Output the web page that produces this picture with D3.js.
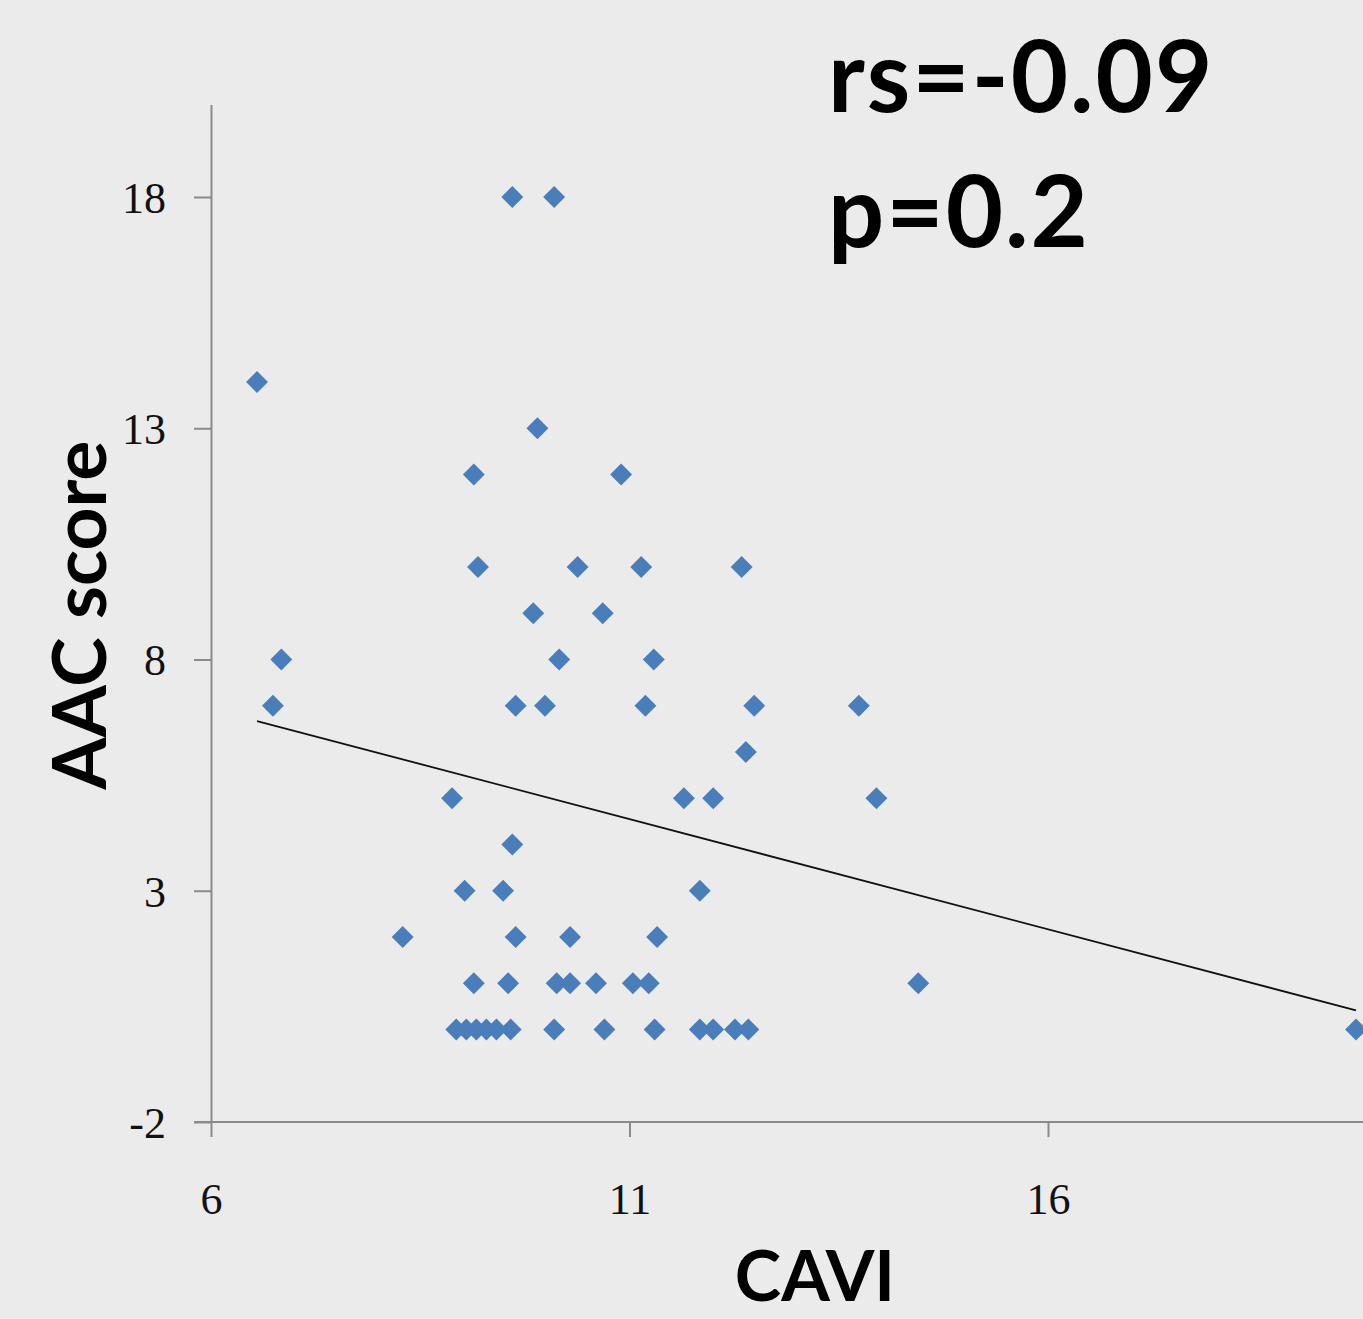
<!DOCTYPE html>
<html>
<head>
<meta charset="utf-8">
<script src="https://cdn.jsdelivr.net/npm/d3@7"></script>
<style>
  body { margin: 0; background: #ebebeb; }
  svg { display: block; background: #ebebeb; }
  .axis path, .axis line { stroke: #8a8a8a; stroke-width: 2px; }
  .axis text { font-family: "Liberation Serif", serif; font-size: 44px; fill: #111; }
  .title { font-family: Lato, "Open Sans", sans-serif; font-weight: bold; fill: #000; }
</style>
</head>
<body>
<div id="chart"></div>
<script>
// CAVI (x) vs AAC score (y)
var caviValues = [
  9.6, 10.1,
  6.55,
  9.9,
  9.14, 10.9,
  9.19, 10.38, 11.14, 12.34,
  9.85, 10.68,
  6.84, 10.16, 11.29,
  6.74, 9.64, 9.99, 11.19, 12.49, 13.74,
  12.39,
  8.88, 11.65, 12.0, 13.95,
  9.6,
  9.03, 9.49, 11.84,
  8.29, 9.64, 10.29, 11.33,
  9.14, 9.55, 10.13, 10.29, 10.6, 11.04, 11.23, 14.45,
  8.93, 9.05, 9.17, 9.29, 9.41, 9.58, 10.1, 10.7, 11.3, 11.84, 12.0, 12.26, 12.42, 19.68
];
var aacValues = [
  18, 18,
  14,
  13,
  12, 12,
  10, 10, 10, 10,
  9, 9,
  8, 8, 8,
  7, 7, 7, 7, 7, 7,
  6,
  5, 5, 5, 5,
  4,
  3, 3, 3,
  2, 2, 2, 2,
  1, 1, 1, 1, 1, 1, 1, 1,
  0, 0, 0, 0, 0, 0, 0, 0, 0, 0, 0, 0, 0, 0
];
var xTicks = [6, 11, 16];
var yTicks = [-2, 3, 8, 13, 18];
var statLines = ["rs=-0.09", "p=0.2"];

var width = 1363, height = 1319;
var svg = d3.select("#chart").append("svg")
  .attr("width", width)
  .attr("height", height);

var x = d3.scaleLinear().domain([6, 21]).range([211, 211 + 15 * 83.7]);
var y = d3.scaleLinear().domain([-2, 20]).range([1122, 1122 - 22 * 46.25]);

var xAxis = d3.axisBottom(x).tickValues(xTicks).tickSize(15).tickSizeOuter(0).tickPadding(46)
  .tickFormat(function (d) { return String(d); });
var yAxis = d3.axisLeft(y).tickValues(yTicks).tickSize(17).tickSizeOuter(0).tickPadding(28)
  .tickFormat(function (d) { return String(d); });

svg.append("g")
  .attr("class", "y axis")
  .attr("transform", "translate(" + x(6) + ",0)")
  .call(yAxis)
  .selectAll("text").attr("dy", "0.35em");

svg.append("g")
  .attr("class", "x axis")
  .attr("transform", "translate(0," + y(-2) + ")")
  .call(xAxis);
svg.select(".x.axis .domain").attr("d", "M" + (x(6) - 17) + ",0H" + width);

var data = caviValues.map(function (d, i) {
  return { cavi: d, aac: aacValues[i] };
});

// least squares trend line over the data range
var mx = d3.mean(data, function (d) { return d.cavi; });
var my = d3.mean(data, function (d) { return d.aac; });
var sxy = d3.sum(data, function (d) { return (d.cavi - mx) * (d.aac - my); });
var sxx = d3.sum(data, function (d) { return (d.cavi - mx) * (d.cavi - mx); });
var slope = sxy / sxx, intercept = my - slope * mx;
var xmin = d3.min(caviValues), xmax = d3.max(caviValues);

var diamond = d3.symbol().type(d3.symbolSquare).size(240);
svg.selectAll(".dot")
  .data(data)
  .enter().append("path")
  .attr("class", "dot")
  .attr("d", diamond)
  .attr("fill", "#4a7ebb")
  .attr("transform", function (d) {
    return "translate(" + x(d.cavi) + "," + y(d.aac) + ") rotate(45)";
  });

svg.append("line")
  .attr("x1", x(xmin)).attr("y1", y(intercept + slope * xmin))
  .attr("x2", x(xmax)).attr("y2", y(intercept + slope * xmax))
  .attr("stroke", "#111")
  .attr("stroke-width", 1.8);

svg.append("text")
  .attr("class", "title")
  .attr("transform", "translate(106,615) rotate(-90)")
  .style("text-anchor", "middle")
  .style("font-size", "75px")
  .text("AAC score");

svg.append("text")
  .attr("class", "title")
  .attr("x", 815).attr("y", 1301)
  .style("text-anchor", "middle")
  .style("font-size", "70px")
  .text("CAVI");

svg.selectAll(".stat")
  .data(statLines)
  .enter().append("text")
  .attr("class", "title stat")
  .attr("x", 828)
  .attr("y", function (d, i) { return 112 + i * 135; })
  .style("font-size", "99px")
  .style("letter-spacing", "2px")
  .text(function (d) { return d; });
</script>
</body>
</html>
